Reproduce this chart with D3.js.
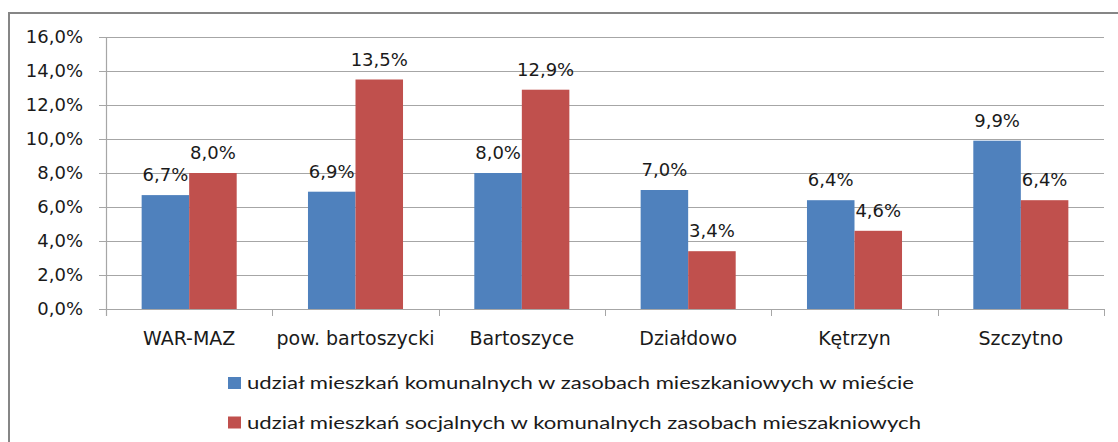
<!DOCTYPE html>
<html>
<head>
<meta charset="utf-8">
<script src="https://cdn.jsdelivr.net/npm/d3@7"></script>
<style>
  body { margin: 0; background: #fff; }
  text { font-family: "DejaVu Sans", Verdana, sans-serif; fill: #1a1a1a; }
</style>
</head>
<body>
<div id="chart"></div>
<script>
// data
const categories = ["WAR-MAZ", "pow. bartoszycki", "Bartoszyce", "Działdowo", "Kętrzyn", "Szczytno"];
const seriesNames = [
    "udział mieszkań komunalnych w zasobach mieszkaniowych w mieście",
    "udział mieszkań socjalnych w komunalnych zasobach mieszakniowych"
];
const komunalne = [6.7, 6.9, 8.0, 7.0, 6.4, 9.9];
const socjalne = [8.0, 13.5, 12.9, 3.4, 4.6, 6.4];
const yTicks = [0, 2, 4, 6, 8, 10, 12, 14, 16];
const colors = ["#4f81bd", "#c0504d"];

const W = 1118, H = 442;
const margin = {top: 37, left: 106, right: 14, bottom: 133};
const width = W - margin.left - margin.right;
const height = H - margin.top - margin.bottom;

const svg = d3.select("#chart").append("svg")
    .attr("width", W)
    .attr("height", H);

// outer frame
svg.append("rect")
    .attr("x", 9).attr("y", 13)
    .attr("width", W + 20).attr("height", H + 20)
    .attr("fill", "none")
    .attr("stroke", "#868686")
    .attr("stroke-width", 2);

const g = svg.append("g")
    .attr("transform", "translate(" + margin.left + "," + margin.top + ")");

const x = d3.scaleBand()
    .domain(categories)
    .range([0, width]);

const xInner = d3.scaleBand()
    .domain([0, 1])
    .range([0, x.bandwidth()])
    .paddingOuter(0.75)
    .paddingInner(0);

const y = d3.scaleLinear()
    .domain([0, 16])
    .range([height, 0]);

const fmt = v => d3.format(".1f")(v).replace(".", ",") + "%";

// gridlines
g.append("g")
    .selectAll("line")
    .data(yTicks)
    .join("line")
    .attr("x1", 0).attr("x2", width)
    .attr("y1", d => Math.round(y(d)) + 0.5)
    .attr("y2", d => Math.round(y(d)) + 0.5)
    .attr("stroke", "#a6a6a6")
    .attr("stroke-width", 1.2);

// y axis
const yAxis = d3.axisLeft(y)
    .tickValues(yTicks)
    .tickSize(7)
    .tickPadding(16)
    .tickFormat(fmt);

g.append("g")
    .attr("class", "y-axis")
    .call(yAxis)
    .call(a => a.select(".domain").remove());

g.selectAll(".y-axis .tick line").attr("stroke", "#a6a6a6");
g.selectAll(".y-axis text")
    .style("font-size", "18px")
    .attr("fill", "#1a1a1a");

g.append("line")
    .attr("x1", 0.5).attr("x2", 0.5)
    .attr("y1", 0).attr("y2", height + 7)
    .attr("stroke", "#a6a6a6")
    .attr("stroke-width", 1.2);

// x axis ticks at category boundaries
g.append("g")
    .selectAll("line")
    .data(d3.range(categories.length + 1))
    .join("line")
    .attr("x1", d => Math.round(d * x.step()) + 0.5)
    .attr("x2", d => Math.round(d * x.step()) + 0.5)
    .attr("y1", height)
    .attr("y2", height + 7)
    .attr("stroke", "#a6a6a6");

g.append("g")
    .selectAll("text")
    .data(categories)
    .join("text")
    .attr("x", d => x(d) + x.bandwidth() / 2)
    .attr("y", height + 36)
    .attr("text-anchor", "middle")
    .style("font-size", "19px")
    .text(d => d);

// bars
const series = [komunalne, socjalne];
series.forEach(function(vals, si) {
    const grp = g.append("g").attr("class", "series-" + si);

    grp.selectAll("rect")
        .data(vals)
        .join("rect")
        .attr("x", (d, i) => x(categories[i]) + xInner(si))
        .attr("y", d => y(d))
        .attr("width", xInner.bandwidth())
        .attr("height", d => height - y(d))
        .attr("fill", colors[si]);

    grp.selectAll("text")
        .data(vals)
        .join("text")
        .attr("x", (d, i) => x(categories[i]) + xInner(si) + xInner.bandwidth() / 2)
        .attr("y", d => y(d) - 14)
        .attr("text-anchor", "middle")
        .style("font-size", "18px")
        .text(d => fmt(d));
});

// legend
const legend = svg.append("g")
    .attr("transform", "translate(228,377)");

const items = legend.selectAll("g")
    .data(seriesNames)
    .join("g")
    .attr("transform", (d, i) => "translate(0," + (i * 39.5) + ")");

items.append("rect")
    .attr("width", 13)
    .attr("height", 12)
    .attr("fill", (d, i) => colors[i]);

items.append("text")
    .attr("x", 19)
    .attr("y", 12)
    .style("font-family", "Lato, 'Open Sans', sans-serif")
    .style("font-size", "18px")
    .attr("textLength", (d, i) => i == 0 ? 667 : 674)
    .attr("lengthAdjust", "spacingAndGlyphs")
    .text(d => d);
</script>
</body>
</html>
